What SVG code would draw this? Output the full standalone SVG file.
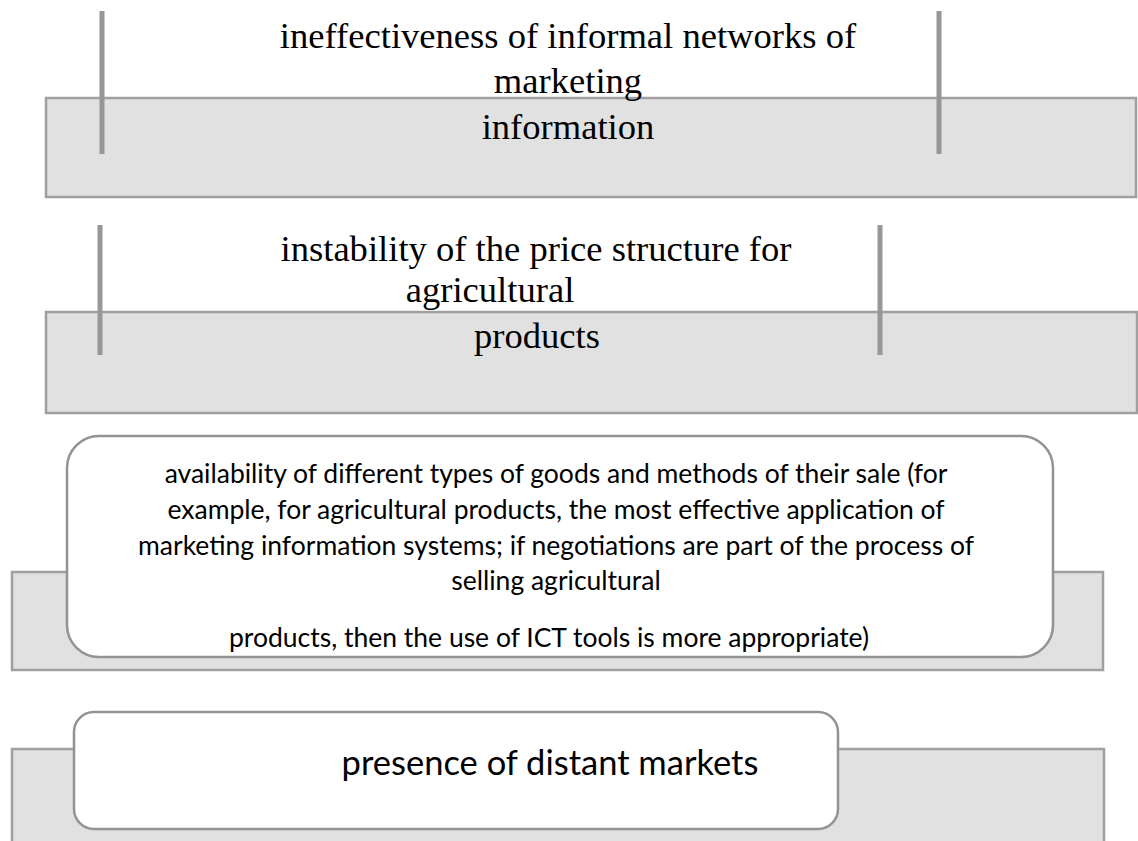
<svg xmlns="http://www.w3.org/2000/svg" width="1138" height="841" viewBox="0 0 1138 841">
<style>
.band{fill:#e1e1e1;stroke:#a0a0a0;stroke-width:2.5}
.bar{stroke:#979797;stroke-width:5}
.card{fill:#ffffff;stroke:#939393;stroke-width:2.5}
.serif{font-family:"Liberation Serif","Times New Roman",serif;font-size:36.6px;fill:#000}
.sans{font-family:Lato,"Liberation Sans",sans-serif;font-size:26.5px;fill:#000}
.sansL{font-family:Lato,"Liberation Sans",sans-serif;font-size:34.5px;fill:#000}
</style>
<rect width="1138" height="841" fill="#ffffff"/>
<g id="node1">
<rect class="band" x="46" y="98" width="1090" height="99"/>
<text class="serif" text-anchor="middle" x="568" y="48">ineffectiveness of informal networks of</text>
<text class="serif" text-anchor="middle" x="568" y="93">marketing</text>
<text class="serif" text-anchor="middle" x="568" y="139">information</text>
</g>
<g id="node2">
<rect class="band" x="46" y="312" width="1091" height="101"/>
<text class="serif" text-anchor="middle" x="536" y="261">instability of the price structure for</text>
<text class="serif" text-anchor="middle" x="490" y="302">agricultural</text>
<text class="serif" text-anchor="middle" x="537" y="348">products</text>
</g>
<g id="node3">
<rect class="band" x="12" y="572" width="1091" height="98"/>
<rect class="card" x="67" y="436" width="986" height="221" rx="32" ry="32"/>
<text class="sans" text-anchor="middle" x="556" y="483">availability of different types of goods and methods of their sale (for</text>
<text class="sans" text-anchor="middle" x="556" y="519">example, for agricultural products, the most effective application of</text>
<text class="sans" text-anchor="middle" x="556" y="555">marketing information systems; if negotiations are part of the process of</text>
<text class="sans" text-anchor="middle" x="556" y="590">selling agricultural</text>
<text class="sans" text-anchor="middle" x="549" y="647">products, then the use of ICT tools is more appropriate)</text>
</g>
<g id="node4">
<rect class="band" x="12" y="749" width="1092" height="110"/>
<rect class="card" x="74" y="712" width="764" height="117" rx="20" ry="20"/>
<text class="sansL" text-anchor="middle" x="550" y="775">presence of distant markets</text>
</g>
<g id="connectors">
<line class="bar" x1="102" y1="11" x2="102" y2="154"/>
<line class="bar" x1="939" y1="11" x2="939" y2="154"/>
<line class="bar" x1="100" y1="225" x2="100" y2="355"/>
<line class="bar" x1="880" y1="225" x2="880" y2="355"/>
</g>
</svg>
